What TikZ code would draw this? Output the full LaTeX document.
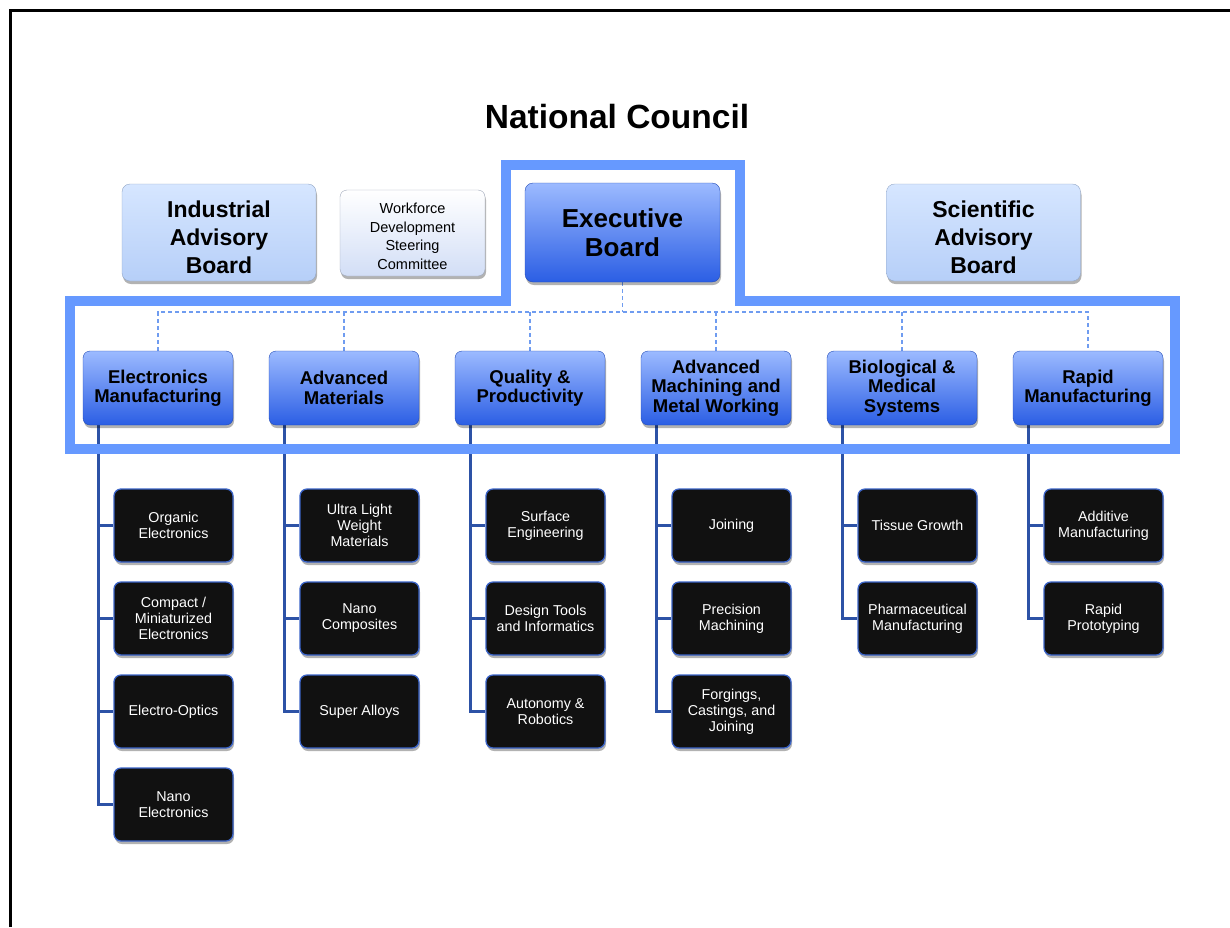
\documentclass[tikz,border=0pt]{standalone}
\usepackage{fontspec}
\setmainfont{Liberation Sans}
\usetikzlibrary{shadows,backgrounds}
\definecolor{frameblue}{HTML}{6699FF}
\definecolor{linkblue}{HTML}{2D52A6}
\definecolor{dashblue}{HTML}{6F9CF0}
\definecolor{edgeblue}{HTML}{3B64C8}
\definecolor{boardtop}{HTML}{D6E6FF}
\definecolor{boardbot}{HTML}{B6CFF8}
\definecolor{paletop}{HTML}{FFFFFF}
\definecolor{palebot}{HTML}{D2DEF6}
\definecolor{exectop}{HTML}{9CBAFF}
\definecolor{execbot}{HTML}{2B5EE4}
\definecolor{topicfill}{HTML}{111111}
% extra room above the first line of a label
\newcommand{\toppad}[1]{\rule{0pt}{#1}}
\tikzset{
  boxshadow/.style={drop shadow={shadow xshift=1pt, shadow yshift=-3pt, opacity=0.3, fill=black}},
  board/.style={rounded corners=8pt, draw=boardbot!80!black, top color=boardtop, bottom color=boardbot,
    boxshadow, align=center, inner sep=0pt, minimum width=194pt, minimum height=97pt,
    font=\bfseries\fontsize{23}{28}\selectfont},
  smallboard/.style={rounded corners=7pt, draw=palebot!75!black, top color=paletop, bottom color=palebot,
    boxshadow, align=center, inner sep=0pt, minimum width=145pt, minimum height=86pt,
    font=\fontsize{14.5}{18.5}\selectfont},
  execbox/.style={rounded corners=8pt, draw=execbot!80!black, top color=exectop, bottom color=execbot,
    boxshadow, align=center, inner sep=0pt, minimum width=195pt, minimum height=99pt,
    font=\bfseries\fontsize{26}{29}\selectfont},
  areabox/.style={execbox, rounded corners=7pt, minimum width=150pt, minimum height=74pt,
    font=\bfseries\fontsize{18.5}{19.5}\selectfont},
  topicbox/.style={rounded corners=7pt, draw=edgeblue, line width=1.3pt, fill=topicfill, text=white,
    boxshadow, align=center, inner sep=0pt, minimum width=119pt, minimum height=73pt,
    font=\fontsize{14.3}{16}\selectfont},
  dashlink/.style={dashblue, line width=1.2pt, dash pattern=on 4pt off 3pt},
  treelink/.style={linkblue, line width=3pt}
}
\begin{document}
\begin{tikzpicture}[x=1pt, y=-1pt]
  \useasboundingbox (0,0) rectangle (1230,927);
  \draw[line width=3.5pt] (10.5,927) -- (10.5,10.5) -- (1230,10.5);

  \node[font=\bfseries\fontsize{33.5}{40}\selectfont] (title) at (617,117) {National Council};

  % boards along the top
  \node[board]      (iab) at (219,232.5)   {\toppad{27pt}Industrial\\Advisory\\Board};
  \node[smallboard] (wdc) at (412.5,233)   {\toppad{17pt}Workforce\\Development\\Steering\\Committee};
  \node[execbox]    (eb)  at (622.5,232.5) {Executive\\Board};
  \node[board]      (sab) at (983.5,232.5) {\toppad{27pt}Scientific\\Advisory\\Board};

  % technical areas
  \node[areabox] (elec)  at (158,388)  {Electronics\\Manufacturing};
  \node[areabox] (mat)   at (344,388)  {Advanced\\Materials};
  \node[areabox] (qual)  at (530,388)  {Quality \&\\Productivity};
  \node[areabox] (mach)  at (716,388)  {Advanced\\Machining and\\Metal Working};
  \node[areabox] (bio)   at (902,388)  {Biological \&\\Medical\\Systems};
  \node[areabox] (rapid) at (1088,388) {Rapid\\Manufacturing};

  % topics under each area
  \node[topicbox] (elec1) at (173.5,525.5) {Organic\\Electronics};
  \node[topicbox] (elec2) at (173.5,618.5) {Compact /\\Miniaturized\\Electronics};
  \node[topicbox] (elec3) at (173.5,711.5) {Electro-Optics};
  \node[topicbox] (elec4) at (173.5,804.5) {Nano\\Electronics};

  \node[topicbox] (mat1) at (359.5,525.5) {Ultra Light\\Weight\\Materials};
  \node[topicbox] (mat2) at (359.5,618.5) {Nano\\Composites};
  \node[topicbox] (mat3) at (359.5,711.5) {Super Alloys};

  \node[topicbox] (qual1) at (545.5,525.5) {Surface\\Engineering};
  \node[topicbox] (qual2) at (545.5,618.5) {Design Tools\\and Informatics};
  \node[topicbox] (qual3) at (545.5,711.5) {Autonomy \&\\Robotics};

  \node[topicbox] (mach1) at (731.5,525.5) {Joining};
  \node[topicbox] (mach2) at (731.5,618.5) {Precision\\Machining};
  \node[topicbox] (mach3) at (731.5,711.5) {Forgings,\\Castings, and\\Joining};

  \node[topicbox] (bio1) at (917.5,525.5) {Tissue Growth};
  \node[topicbox] (bio2) at (917.5,618.5) {Pharmaceutical\\Manufacturing};

  \node[topicbox] (rapid1) at (1103.5,525.5) {Additive\\Manufacturing};
  \node[topicbox] (rapid2) at (1103.5,618.5) {Rapid\\Prototyping};

  \begin{pgfonlayer}{background}
    % dashed bus from the executive board
    \coordinate (bus) at (622.5,312);
    \draw[dashlink] (eb.south) -- (bus);
    \draw[dashlink] (elec.north) -- (elec.north |- bus) -- (rapid.north |- bus) -- (rapid.north);
    \foreach \a in {mat,qual,mach,bio}
      \draw[dashlink] (\a.north) -- (\a.north |- bus);
    % trees down to the topics
    \foreach \a/\n in {elec/4,mat/3,qual/3,mach/3,bio/2,rapid/2}
      \foreach \k in {1,...,\n}
        \draw[treelink] ([xshift=16pt]\a.south west) |- (\a\k.west);
  \end{pgfonlayer}

  % outline round the executive board and the areas
  \draw[frameblue, line width=10pt]
    (70,301) -- (506,301) -- (506,165) -- (740,165) -- (740,301)
    -- (1175,301) -- (1175,449) -- (70,449) -- cycle;
\end{tikzpicture}
\end{document}
